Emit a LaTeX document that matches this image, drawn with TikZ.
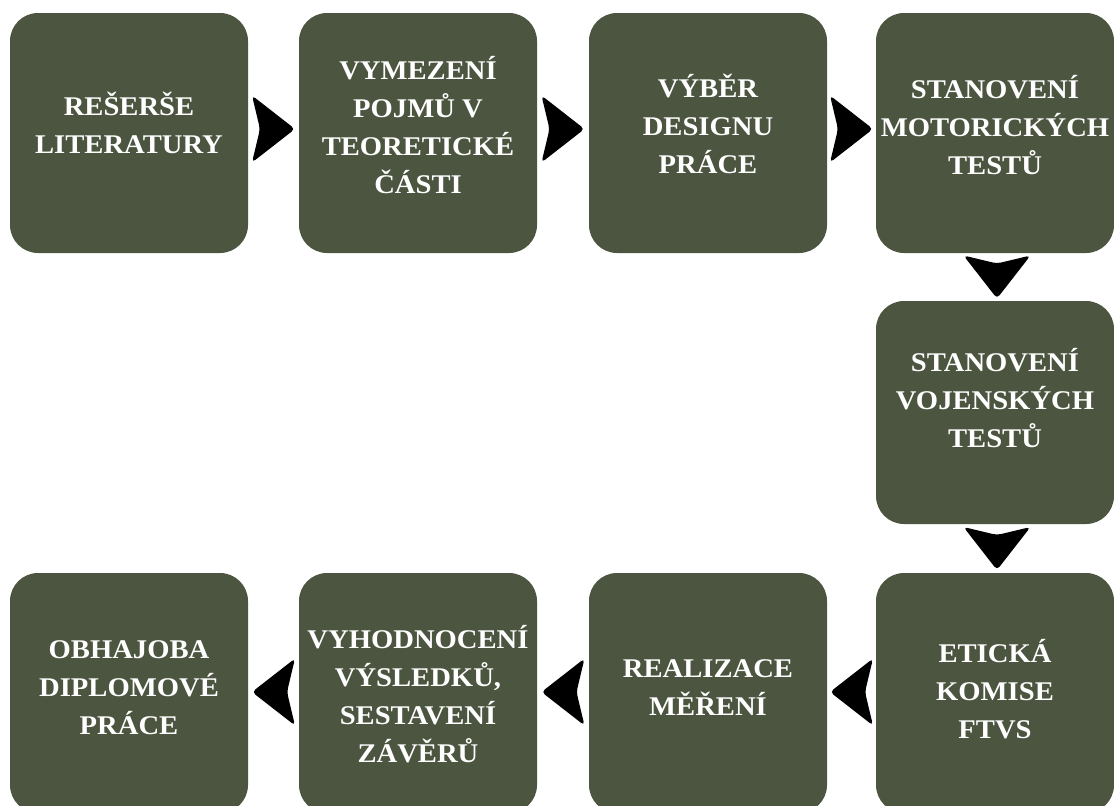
\documentclass[tikz,border=0pt]{standalone}
\usepackage{fontspec}
\setmainfont{Liberation Serif}
\newfontfamily\boxfont[FakeStretch=1.06]{Liberation Serif}
\usetikzlibrary{positioning,calc}
\definecolor{olivebox}{RGB}{76,85,63}

\begin{document}
\begin{tikzpicture}[x=1pt,y=-1pt,
  phase/.style={
    rectangle,
    rounded corners=28pt,
    fill=olivebox,
    inner sep=0pt,
    minimum width=238pt,
    minimum height=240pt
  },
  caption/.style={
    text=white,
    align=center,
    inner sep=0pt,
    font=\boxfont\bfseries\fontsize{27}{38}\selectfont
  },
  chevron/.style={
    fill=black,
    rounded corners=4pt
  }
]
  \useasboundingbox (0,0) rectangle (1114,806);
  \node[phase] (b1) at (129,133) {};
  \node[phase] (b2) at (418,133) {};
  \node[phase] (b3) at (708,133) {};
  \node[phase] (b4) at (995,133) {};
  \node[phase,minimum height=223pt] (b5) at (995,412.5) {};
  \node[phase] (b6) at (995,693) {};
  \node[phase] (b7) at (708,693) {};
  \node[phase] (b8) at (418,693) {};
  \node[phase] (b9) at (129,693) {};
  % texts
  \node[caption] (t1) at ($(b1)+(0,-10)$) {REŠERŠE\\LITERATURY};
  \node[caption] (t2) at ($(b2)+(0,-8)$) {VYMEZENÍ\\POJMŮ V\\TEORETICKÉ\\ČÁSTI};
  \node[caption] (t3) at ($(b3)+(0,-9)$) {VÝBĚR\\DESIGNU\\PRÁCE};
  \node[caption] (t4) at ($(b4)+(0,-8)$) {STANOVENÍ\\MOTORICKÝCH\\TESTŮ};
  \node[caption] (t5) at ($(b5)+(0,-14)$) {STANOVENÍ\\VOJENSKÝCH\\TESTŮ};
  \node[caption] (t6) at ($(b6)+(0,-4)$) {ETICKÁ\\KOMISE\\FTVS};
  \node[caption] (t7) at ($(b7)+(0,-5)$) {REALIZACE\\MĚŘENÍ};
  \node[caption] (t8) at ($(b8)+(0,1)$) {VYHODNOCENÍ\\VÝSLEDKŮ,\\SESTAVENÍ\\ZÁVĚRŮ};
  \node[caption] (t9) at ($(b9)+(0,-5)$) {OBHAJOBA\\DIPLOMOVÉ\\PRÁCE};
  % arrows to the right
  \foreach \a/\b in {b1/b2,b2/b3,b3/b4}
    \fill[chevron] ($(\a.east)!0.5!(\b.west)+(-21.5,-37.5)$) -- ++(43,33.5)
      -- ++(-43,33.5) -- ++(8,-33.5) -- cycle;
  % arrows downwards
  \foreach \a/\b in {b4/b5,b5/b6}
    \fill[chevron] ($(\a.south)!0.5!(\b.north)+(-31.5,-21.5)$) -- ++(33.5,8)
      -- ++(33.5,-8) -- ++(-33.5,43) -- cycle;
  % arrows to the left
  \foreach \a/\b in {b6/b7,b7/b8,b8/b9}
    \fill[chevron] ($(\a.west)!0.5!(\b.east)+(21.5,-34.5)$) -- ++(-43,33.5)
      -- ++(43,33.5) -- ++(-8,-33.5) -- cycle;
\end{tikzpicture}
\end{document}
